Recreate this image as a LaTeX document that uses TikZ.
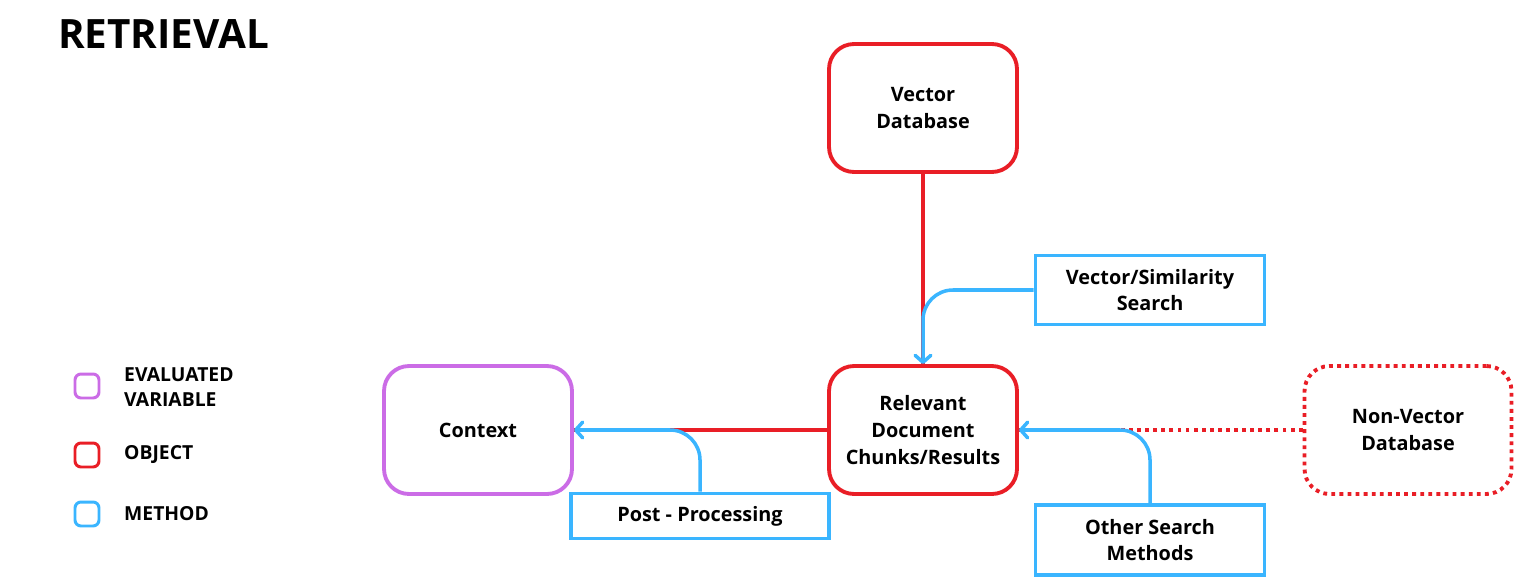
\documentclass[tikz,border=0pt]{standalone}
\usepackage{fontspec}
\setmainfont{Open Sans}
\usetikzlibrary{arrows.meta}
\definecolor{objred}{HTML}{E91E26}
\definecolor{methblue}{HTML}{3AB5FF}
\definecolor{evalpurple}{HTML}{CB6CE6}
\begin{document}
\begin{tikzpicture}[x=0.02cm,y=-0.02cm,
		boxtext/.style={align=center,font=\bfseries\fontsize{11.3}{15.3}\selectfont},
		object/.style={boxtext,draw=objred,line width=2.2pt,rounded corners=0.5cm,minimum width=3.76cm,minimum height=2.56cm},
		evalvar/.style={object,draw=evalpurple},
		method/.style={boxtext,draw=methblue,line width=2.2pt,minimum width=4.58cm,minimum height=1.38cm},
		objline/.style={draw=objred,line width=2pt},
		methline/.style={draw=methblue,line width=2pt,rounded corners=0.6cm,-{Straight Barb[length=4pt,width=9pt,round]}},
		legendbox/.style={draw,line width=1.7pt,rounded corners=0.12cm,minimum size=0.48cm,inner sep=0pt},
		legendtext/.style={anchor=west,align=left,font=\bfseries\fontsize{11}{14.2}\selectfont}]
		\path[use as bounding box] (0,0) rectangle (1514,578);
		\node[anchor=west,font=\bfseries\fontsize{23}{28}\selectfont] (title) at (52,34) {RETRIEVAL};
		
		\node[object] (vdb) at (923,108) {Vector\\Database};
		\node[object] (rel) at (923,430) {Relevant\\Document\\Chunks/Results};
		\node[evalvar] (ctx) at (478,430) {Context};
		\node[object,minimum width=4.14cm,dash pattern=on 2.2pt off 2.4pt] (nvdb) at (1408,430) {Non-Vector\\Database};
		
		\node[method] (vss) at (1150,290) {Vector/Similarity\\Search};
		\node[method,minimum width=5.16cm,minimum height=0.9cm] (pps) at (700,516) {Post - Processing};
		\node[method,minimum height=1.4cm] (osm) at (1150,540) {Other Search\\Methods};
		
		\draw[objline] (vdb) -- (rel);
		\draw[objline] (ctx) -- (rel);
		\draw[objline,dash pattern=on 2.2pt off 2.4pt] (nvdb) -- (rel);
		\draw[methline] (vss.west) -| (rel.north);
		\draw[methline] (pps.north) |- (ctx.east);
		\draw[methline] (osm.north) |- (rel.east);
		
		\node[legendbox,evalpurple] (lgeval) at (87,386) {};
		\node[legendbox,objred] (lgobj) at (87,455) {};
		\node[legendbox,methblue] (lgmeth) at (87,514) {};
		\node[legendtext] (lgevaltext) at (118,387) {EVALUATED\\VARIABLE};
		\node[legendtext] (lgobjtext) at (118,455) {OBJECT};
		\node[legendtext] (lgmethtext) at (118,514) {METHOD};
	\end{tikzpicture}
\end{document}
